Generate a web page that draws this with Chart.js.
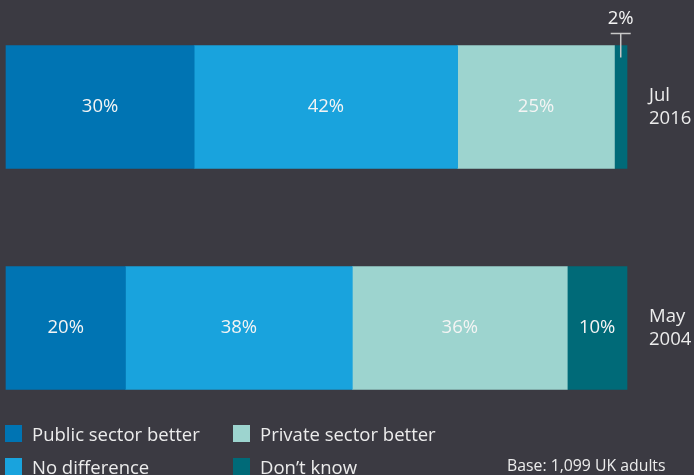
<!DOCTYPE html>
<html>
<head>
<meta charset="utf-8">
<script src="https://cdn.jsdelivr.net/npm/chart.js@4"></script>
<style>
  html, body { margin: 0; padding: 0; background: #3b3a42; }
  #wrap { position: relative; width: 694px; height: 475px; overflow: hidden; font-family: "Open Sans", sans-serif; color: #ececec; }
  #chart { position: absolute; left: 0; top: 0; }
  .key { position: absolute; font-size: 18.5px; line-height: 17px; white-space: nowrap; }
  .key i { position: absolute; left: 0; top: 0; width: 17px; height: 17px; }
  .key span { position: absolute; left: 27px; top: 0; }
  #base { position: absolute; left: 507px; top: 454px; font-size: 15.8px; white-space: nowrap; }
</style>
</head>
<body>
<div id="wrap">
  <canvas id="chart" width="694" height="475"></canvas>
  <div id="base">Base: 1,099 UK adults</div>
</div>
<script>
// survey waves, top to bottom
var waves = [['Jul', '2016'], ['May', '2004']];

var answers = ['Public sector better', 'No difference', 'Private sector better', 'Don\u2019t know'];
var colours = ['#0074b3', '#19a3dd', '#9dd4cf', '#006a78'];

// percentages per answer, one value per wave
var publicBetter = [30, 20];
var noDifference = [42, 38];
var privateBetter = [25, 36];
var dontKnow = [2, 10];

var series = [publicBetter, noDifference, privateBetter, dontKnow];

// each bar is drawn full width, so scale by the wave total
var totals = waves.map(function(w, i) {
    return series.reduce(function(s, arr) { return s + arr[i]; }, 0);
});

var datasets = series.map(function(arr, k) {
    return {
        label: answers[k],
        raw: arr,
        data: arr.map(function(v, i) { return v / totals[i] * 100; }),
        backgroundColor: colours[k],
        barThickness: 123,
        clip: false
    };
});

// value labels inside the bars, small ones go above with a marker
var valueLabels = {
    id: 'valueLabels',
    afterDatasetsDraw: function(chart) {
        var ctx = chart.ctx;
        ctx.save();
        ctx.font = '18.5px "Open Sans", sans-serif';
        ctx.textAlign = 'center';
        ctx.textBaseline = 'middle';
        chart.data.datasets.forEach(function(ds, k) {
            chart.getDatasetMeta(k).data.forEach(function(bar, i) {
                var txt = ds.raw[i] + '%';
                var cx = (bar.base + bar.x) / 2;
                if (bar.x - bar.base > 30) {
                    ctx.fillStyle = '#f4f4f4';
                    ctx.fillText(txt, cx, bar.y);
                } else {
                    var top = bar.y - bar.height / 2;
                    ctx.strokeStyle = '#c8c8c8';
                    ctx.lineWidth = 1.5;
                    ctx.beginPath();
                    ctx.moveTo(cx, top + 12);
                    ctx.lineTo(cx, top - 12);
                    ctx.moveTo(cx - 10, top - 12);
                    ctx.lineTo(cx + 10, top - 12);
                    ctx.stroke();
                    ctx.fillStyle = '#f4f4f4';
                    ctx.fillText(txt, cx, top - 27);
                }
            });
        });
        ctx.restore();
    }
};

new Chart(document.getElementById('chart'), {
    type: 'bar',
    data: { labels: waves, datasets: datasets },
    options: {
        indexAxis: 'y',
        responsive: false,
        animation: false,
        layout: { padding: { left: 6, top: 107, bottom: 147, right: 0 } },
        plugins: { legend: { display: false }, tooltip: { enabled: false } },
        scales: {
            x: { stacked: true, min: 0, max: 100, display: false },
            y: {
                stacked: true,
                position: 'right',
                offset: false,
                grid: { display: false },
                border: { display: false },
                afterFit: function(scale) { scale.width = 67; },
                ticks: {
                    crossAlign: 'near',
                    padding: 14,
                    color: '#ececec',
                    font: { family: '"Open Sans", sans-serif', size: 18.5, lineHeight: 1.25 }
                }
            }
        }
    },
    plugins: [valueLabels]
});

// legend, two columns by two rows: left column public / no difference, right column private / don't know
var wrap = document.getElementById('wrap');
var spots = [[5, 425], [5, 458], [233, 425], [233, 458]];
answers.forEach(function(name, k) {
    var el = document.createElement('div');
    el.className = 'key';
    el.style.left = spots[k][0] + 'px';
    el.style.top = spots[k][1] + 'px';
    el.innerHTML = '<i style="background:' + colours[k] + '"></i><span>' + name + '</span>';
    wrap.appendChild(el);
});
</script>
</body>
</html>
